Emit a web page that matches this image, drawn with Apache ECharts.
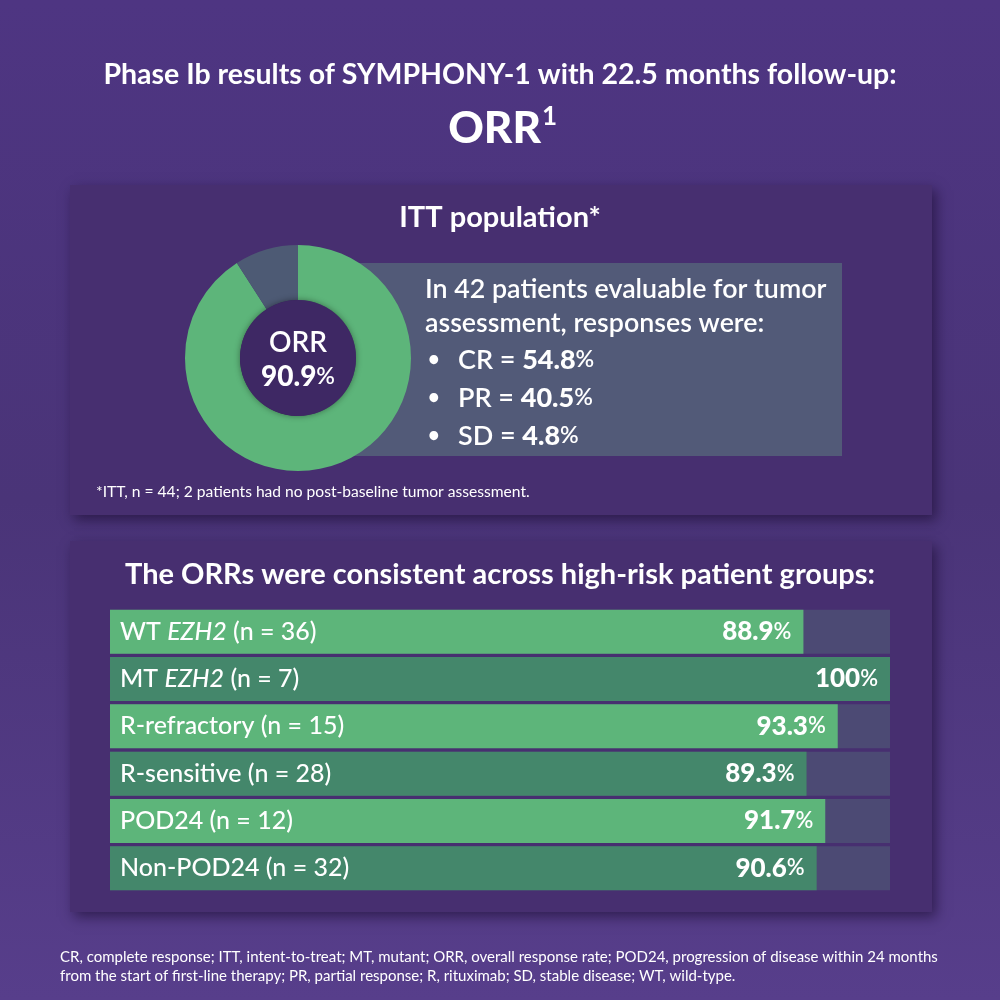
<!DOCTYPE html>
<html><head><meta charset="utf-8">
<script src="https://cdn.jsdelivr.net/npm/echarts@6/dist/echarts.min.js"></script>
<style>html,body{margin:0;padding:0;background:#4d3580}#c{width:1000px;height:1000px}</style>
</head><body><div id="c"></div>
<script>
// ---- data ----
const donutLabels = ['ORR', 'Other'];
const donutValues = [90.9, 9.1];
const responseLabels = ['CR', 'PR', 'SD'];
const responseValues = ['54.8', '40.5', '4.8'];
const groupCategories = ['WT EZH2 (n = 36)', 'MT EZH2 (n = 7)', 'R-refractory (n = 15)', 'R-sensitive (n = 28)', 'POD24 (n = 12)', 'Non-POD24 (n = 32)'];
const groupValues = [88.9, 100, 93.3, 89.3, 91.7, 90.6];
const groupValueLabels = ['88.9', '100', '93.3', '89.3', '91.7', '90.6'];

const F = 'Lato, "Noto Sans", sans-serif';
const W = '#ffffff';
const chart = echarts.init(document.getElementById('c'), null, {renderer: 'canvas'});

const graphics = [];
function panel(x, y, w, h) {
  graphics.push({type: 'rect', z: -10, shape: {x: x, y: y, width: w, height: h},
    style: {fill: '#472f70', shadowBlur: 12, shadowOffsetX: 4, shadowOffsetY: 5, shadowColor: 'rgba(20,8,40,0.55)'}});
}
panel(70, 185, 862, 330);
panel(70, 541, 862, 371);
graphics.push({type: 'text', x: 500, y: 75, style: {text: 'Phase Ib results of SYMPHONY-1 with 22.5 months follow-up:', font: 'bold 28.5px ' + F, fill: W, align: 'center', verticalAlign: 'middle'}});
graphics.push({type: 'text', x: 541, y: 129, style: {text: 'ORR', font: '900 44px ' + F, fill: W, align: 'right', verticalAlign: 'middle'}});
graphics.push({type: 'text', x: 542, y: 117, style: {text: '1', font: 'bold 26px ' + F, fill: W, align: 'left', verticalAlign: 'middle'}});
graphics.push({type: 'text', x: 500, y: 218, style: {text: 'ITT population*', font: 'bold 29px ' + F, fill: W, align: 'center', verticalAlign: 'middle'}});
graphics.push({type: 'rect', z: -5, shape: {x: 298, y: 263, width: 544, height: 193}, style: {fill: '#525a78'}});
graphics.push({type: 'text', x: 425, y: 289, style: {text: 'In 42 patients evaluable for tumor', font: '600 26.8px ' + F, fill: W, verticalAlign: 'middle'}});
graphics.push({type: 'text', x: 425, y: 323, style: {text: 'assessment, responses were:', font: '600 26.8px ' + F, fill: W, verticalAlign: 'middle'}});
const ys = [360, 398, 436];
responseLabels.forEach((l, i) => {
  graphics.push({type: 'text', x: 428, y: ys[i], style: {text: '•', font: 'bold 20px ' + F, fill: W, verticalAlign: 'middle'}});
  graphics.push({type: 'text', x: 458, y: ys[i], style: {text: '{n|' + l + ' = }{b|' + responseValues[i] + '}{p|%}', fill: W, verticalAlign: 'middle',
    rich: {n: {font: '600 27px ' + F, fill: W}, b: {font: '900 27px ' + F, fill: W}, p: {font: '600 23px ' + F, fill: W}}}});
});
graphics.push({type: 'circle', z: 10, shape: {cx: 298, cy: 358, r: 58}, style: {fill: '#3e2864', shadowBlur: 6, shadowColor: 'rgba(0,0,0,0.4)'}});
graphics.push({type: 'text', z: 11, x: 298, y: 343, style: {text: 'ORR', font: '600 28px ' + F, fill: W, align: 'center', verticalAlign: 'middle'}});
graphics.push({type: 'text', z: 11, x: 298, y: 377, style: {text: '{b|90.9}{p|%}', align: 'center', verticalAlign: 'middle',
  rich: {b: {font: '900 28px ' + F, fill: W}, p: {font: '600 23px ' + F, fill: W}}}});
graphics.push({type: 'text', x: 96, y: 492, style: {text: '*ITT, n = 44; 2 patients had no post-baseline tumor assessment.', font: '15.6px ' + F, fill: W, verticalAlign: 'middle'}});
graphics.push({type: 'text', x: 500, y: 575, style: {text: 'The ORRs were consistent across high-risk patient groups:', font: 'bold 29px ' + F, fill: W, align: 'center', verticalAlign: 'middle'}});
graphics.push({type: 'text', x: 60, y: 957, style: {text: 'CR, complete response; ITT, intent-to-treat; MT, mutant; ORR, overall response rate; POD24, progression of disease within 24 months', font: '15px ' + F, fill: W, verticalAlign: 'middle'}});
graphics.push({type: 'text', x: 60, y: 976, style: {text: 'from the start of first-line therapy; PR, partial response; R, rituximab; SD, stable disease; WT, wild-type.', font: '15px ' + F, fill: W, verticalAlign: 'middle'}});

function catLabel(v) {
  if (v.indexOf('EZH2') >= 0) {
    const parts = v.split('EZH2');
    return '{r|' + parts[0] + '}{i|EZH2}{r|' + parts[1] + '}';
  }
  return '{r|' + v + '}';
}

chart.setOption({
  animation: false,
  backgroundColor: {type: 'linear', x: 0, y: 0, x2: 0, y2: 1, colorStops: [
    {offset: 0, color: '#4e3582'}, {offset: 0.5, color: '#4a3478'}, {offset: 1, color: '#573e8b'}]},
  graphic: {elements: graphics},
  grid: {left: 110, right: 110, top: 608, bottom: 108},
  xAxis: {type: 'value', min: 0, max: 100, show: false},
  yAxis: {type: 'category', inverse: true, data: groupCategories, z: 10,
    axisLine: {show: false}, axisTick: {show: false}, splitLine: {show: false},
    axisLabel: {inside: true, margin: 10, formatter: catLabel,
      rich: {r: {fontSize: 25, fontWeight: 500, fontFamily: F, color: W},
             i: {fontSize: 25, fontWeight: 500, fontStyle: 'italic', fontFamily: F, color: W}}}},
  series: [
    {type: 'pie', center: [298, 358], radius: [58, 113], startAngle: 90, clockwise: true,
      label: {show: false}, labelLine: {show: false}, silent: true,
      data: donutLabels.map((n, i) => ({name: n, value: donutValues[i], itemStyle: {color: i === 0 ? '#5db57a' : '#4d5a74'}}))},
    {type: 'bar', barWidth: 44, showBackground: true, backgroundStyle: {color: '#4c4a74'},
      data: groupValues.map((v, i) => ({value: v, itemStyle: {color: i % 2 === 0 ? '#5db57a' : '#44876b'}})),
      label: {show: true, position: 'insideRight', distance: 12,
        formatter: p => '{b|' + groupValueLabels[p.dataIndex] + '}{p|%}',
        rich: {b: {fontSize: 26, fontWeight: 900, fontFamily: F, color: W},
               p: {fontSize: 22, fontWeight: 600, fontFamily: F, color: W}}}}
  ]
});
</script></body></html>
